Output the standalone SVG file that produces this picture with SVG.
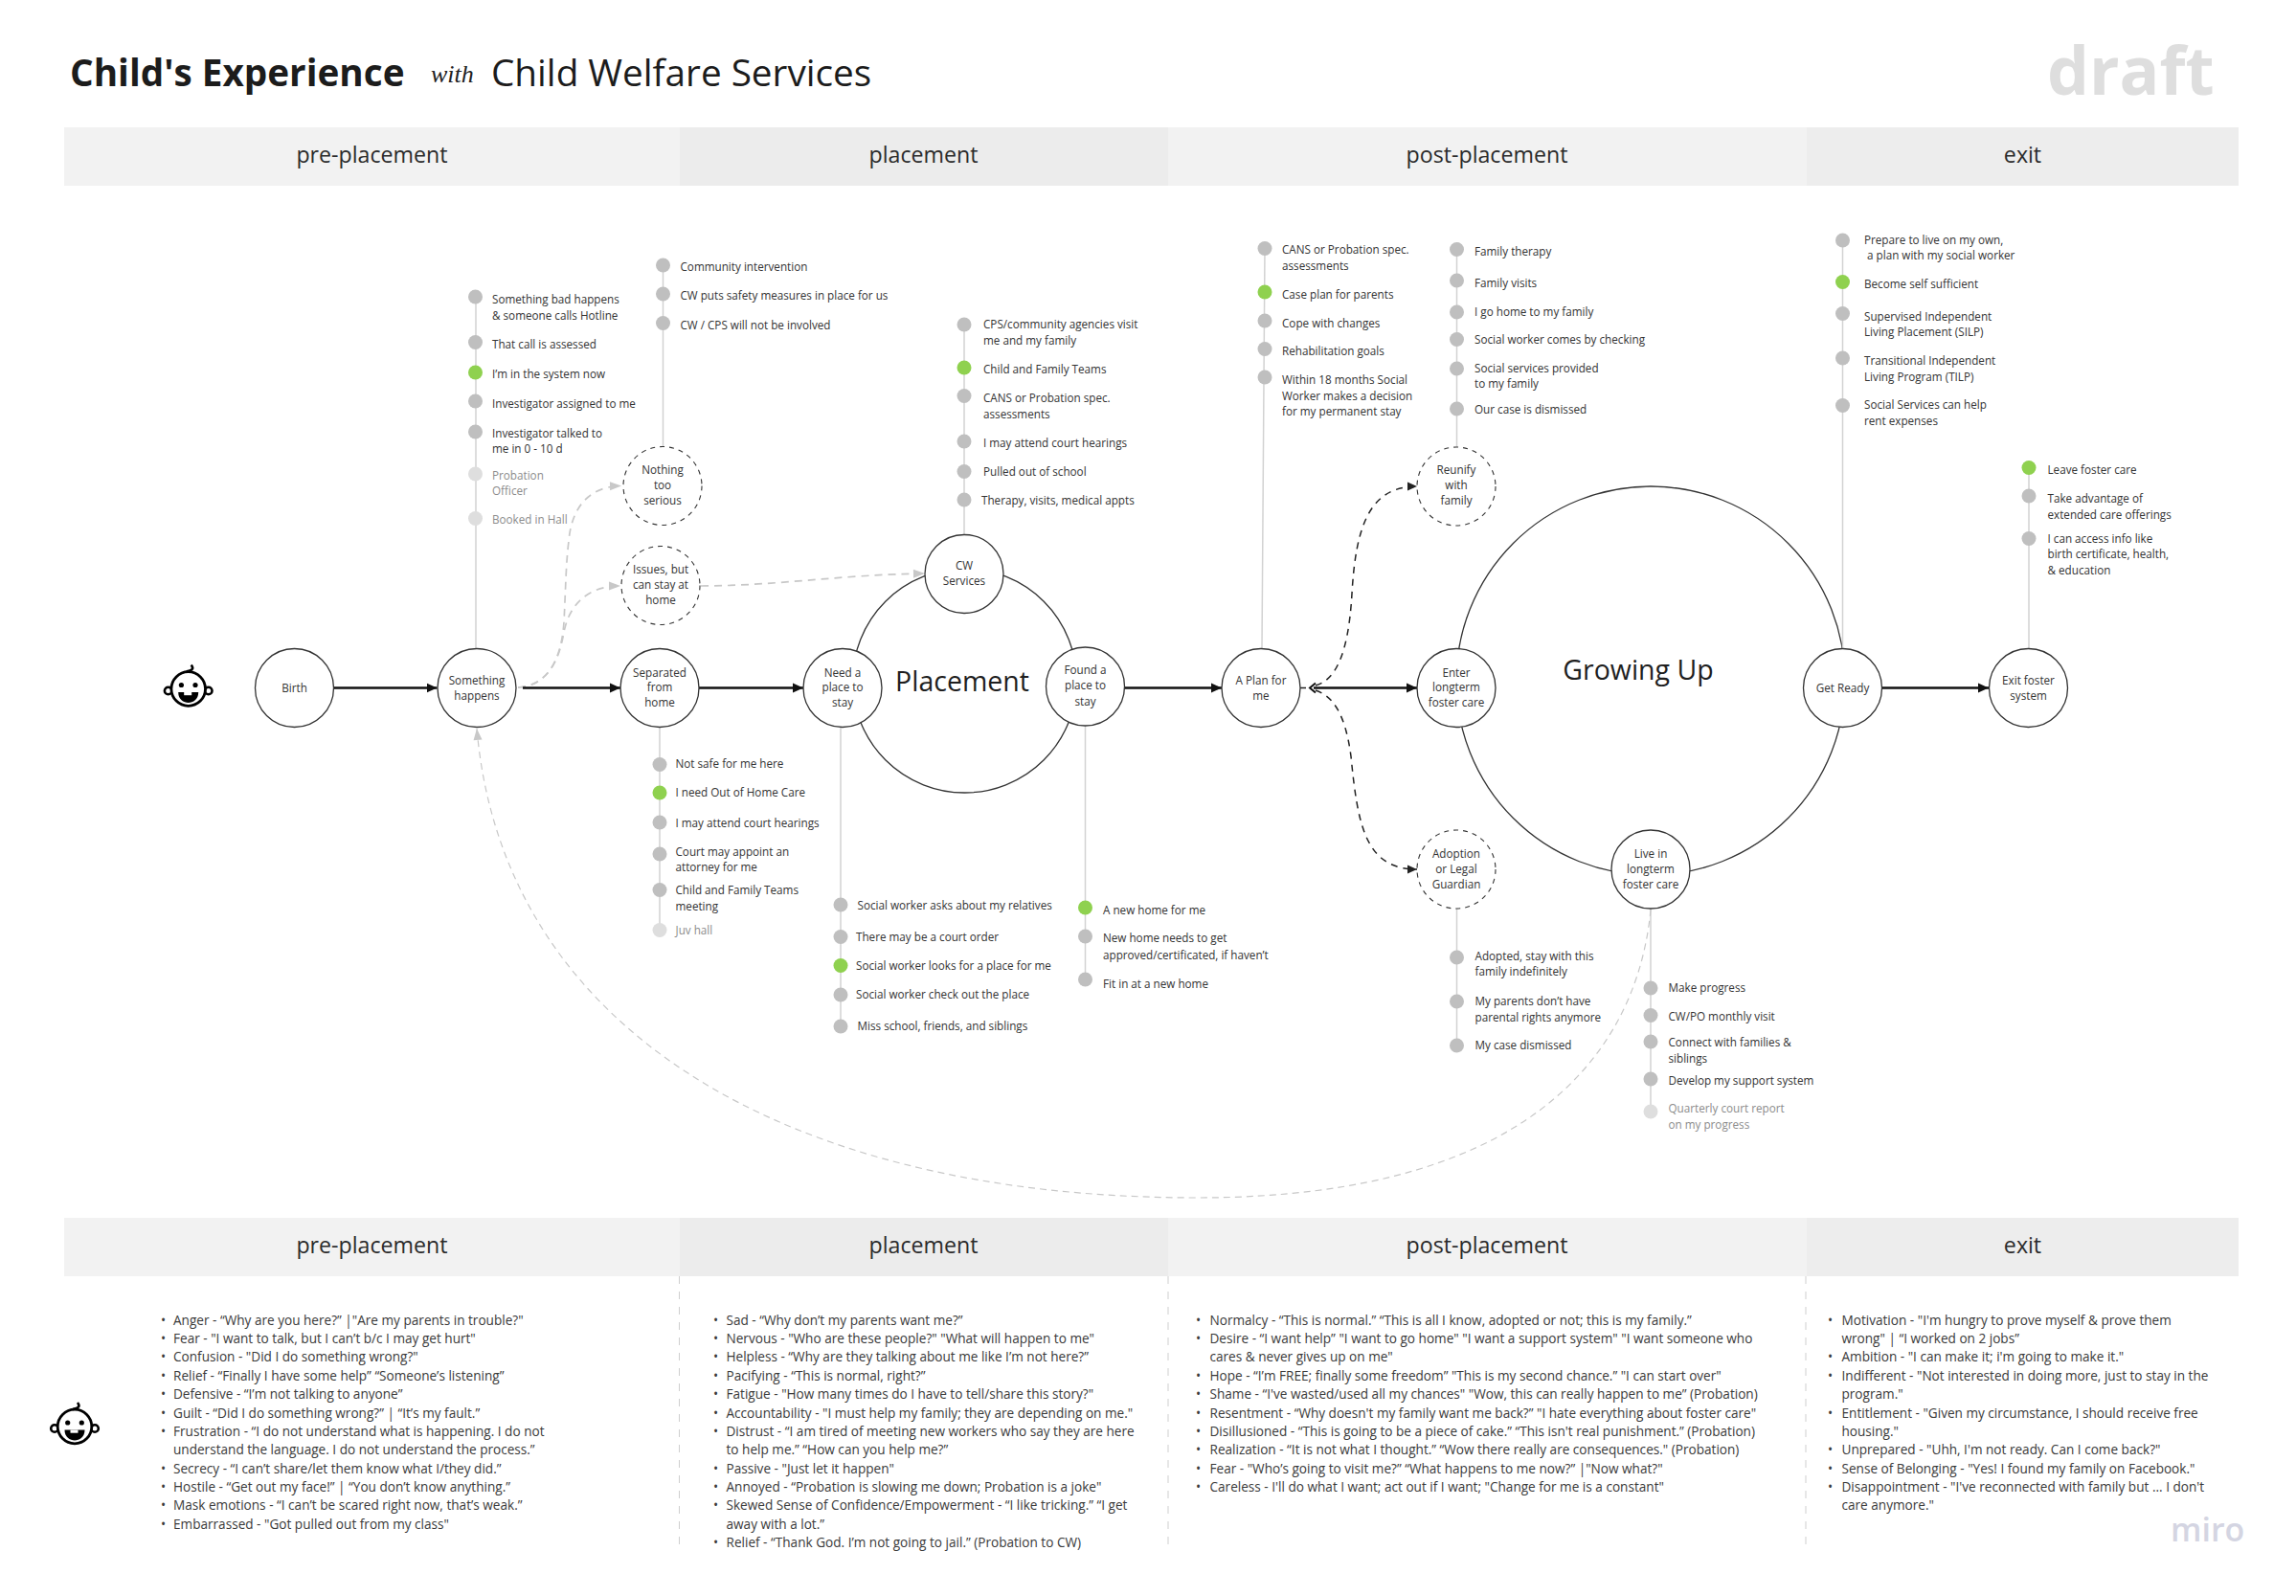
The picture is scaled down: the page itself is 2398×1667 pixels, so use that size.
<svg xmlns="http://www.w3.org/2000/svg" width="2398" height="1667" viewBox="0 0 2398 1667">
<style>
text{font-family:"Open Sans","Noto Sans","DejaVu Sans",sans-serif;fill:#333}
.t{font-size:11.7px}
.l{font-size:11.7px;fill:#8c8c8c}
.n{font-size:11.7px;text-anchor:middle}
.b{font-size:13.6px;fill:#3a3a3a}
.h{font-size:23.2px;text-anchor:middle;fill:#2b2b2b}
.c{fill:#fff;stroke:#333;stroke-width:1.3}
.d{fill:#fff;stroke:#333;stroke-width:1.1;stroke-dasharray:5 5}
.big{fill:none;stroke:#333;stroke-width:1.3}
.v{stroke:#d2d2d2;stroke-width:1.5;fill:none}
.g{fill:#bfbfbf}.y{fill:#8fd14f}.w{fill:#dedede}
.m{stroke:#111;stroke-width:2.6;fill:none;marker-end:url(#am)}
.dk{stroke:#222;stroke-width:1.5;stroke-dasharray:7 6;fill:none;marker-end:url(#ad)}
.dg{stroke:#c8c8c8;stroke-width:1.7;stroke-dasharray:8 6;fill:none;marker-end:url(#ag)}
.dl{stroke:#c8c8c8;stroke-width:1.2;stroke-dasharray:7 5;fill:none;marker-end:url(#ag)}
.sep{stroke:#cfcfcf;stroke-width:1;stroke-dasharray:8 8}
</style>
<defs>
<marker id="am" markerUnits="userSpaceOnUse" markerWidth="12" markerHeight="12" refX="11" refY="6" orient="auto"><path d="M0 1L11 6L0 11Z" fill="#111"/></marker>
<marker id="ad" markerUnits="userSpaceOnUse" markerWidth="12" markerHeight="12" refX="11" refY="6" orient="auto"><path d="M1 1.500L11 6L1 10.500Z" fill="#222"/></marker>
<marker id="ag" markerUnits="userSpaceOnUse" markerWidth="14" markerHeight="12" refX="13" refY="6" orient="auto"><path d="M1 1.500L13 6L1 10.500Z" fill="#c8c8c8"/></marker>
<g id="face">
<circle cx="-21" cy="2" r="3.800" fill="#fff" stroke="#000" stroke-width="2.600"/>
<circle cx="21" cy="2" r="3.800" fill="#fff" stroke="#000" stroke-width="2.600"/>
<circle r="17.800" fill="#fff" stroke="#000" stroke-width="2.800"/>
<path d="M-2-18C2-19 7-20 3-25" fill="none" stroke="#000" stroke-width="2.600"/>
<circle cx="-7.300" cy="-4" r="2.600"/><circle cx="7.300" cy="-4" r="2.600"/>
<path d="M-10.500 3.500H10.500C10.500 11 5 14.500 0 14.500C-5 14.500-10.500 11-10.500 3.500Z"/>
<rect x="-4.500" y="3.500" width="8" height="3.200" fill="#fff"/>
</g>
</defs>
<rect width="2398" height="1667" fill="#fff"/>
<g id="title">
<text x="73" y="90" font-size="38.700" font-weight="700" style="fill:#1c1c1c">Child's Experience</text>
<text x="450" y="86" font-size="26" font-style="italic" style="font-family:'Liberation Serif',serif;fill:#222">with</text>
<text x="513" y="90" font-size="38.700" style="fill:#1c1c1c">Child Welfare Services</text>
<text x="2138" y="99" font-size="69.500" font-weight="700" style="fill:#dedede">draft</text>
</g>
<g id="phase-top">
<rect x="67" y="133" width="643" height="61" fill="#f2f2f2"/>
<rect x="710" y="133" width="510" height="61" fill="#ececec"/>
<rect x="1220" y="133" width="667" height="61" fill="#f2f2f2"/>
<rect x="1887" y="133" width="451" height="61" fill="#ededed"/>
<text class="h" x="388.500" y="170">pre-placement</text>
<text class="h" x="964.500" y="170">placement</text>
<text class="h" x="1553" y="170">post-placement</text>
<text class="h" x="2112.500" y="170">exit</text>
</g>
<g id="rings">
<circle class="big" cx="1007.500" cy="711" r="117"/>
<circle class="big" cx="1724" cy="711" r="203"/>
</g>
<g id="connectors">
<path class="v" d="M497 310V677M692.500 277V467M1007 339V558M1321 259L1318 677M1521.500 261V467M1924.500 251V677M2119 488V677M689 759V972M878 759V1072M1133.500 758V1023M1521.500 949V1092M1724 949V1161"/>
<path class="m" d="M349 718.500H456.500"/>
<path class="dg" d="M541 718C572 716 586 690 589 650C591 610 591 590 594 565C597 530 615 508 649 507.500"/>
<path class="dg" d="M541 718C572 716 584 690 589 660C595 630 615 612 648 612"/>
<path class="dg" d="M732 612C810 612 880 600 966 599"/>
<path class="dl" d="M1724 950C1712 1080 1620 1251 1250 1251C820 1251 525 1075 498 761"/>
<path class="m" d="M546 718.500H648"/>
<path class="m" d="M730 718.500H839"/>
<path class="m" d="M1174 718.500H1276"/>
<path class="m" d="M1372 718.500H1480"/>
<path class="m" d="M1965 718.500H2077"/>
<path d="M1358 718.500H1364" stroke="#222" stroke-width="1.500"/>
<path d="M1374 713.500L1368 718.500L1374 723.500" fill="none" stroke="#111" stroke-width="2"/>
<path class="dk" d="M1374 716C1392 711 1408 690 1412 620C1416 550 1430 508 1480 508"/>
<path class="dk" d="M1374 721C1392 727 1405 745 1411 790C1418 860 1425 908 1480 908"/>
</g>
<g id="n-birth"><circle class="c" cx="307.500" cy="718.500" r="41"/><text class="n" x="307.500" y="722.500">Birth</text></g>
<g id="n-something"><circle class="c" cx="498" cy="718.500" r="41"/><text class="n" x="498" y="714.500">Something</text><text class="n" x="498" y="730.500">happens</text></g>
<g id="n-separated"><circle class="c" cx="689" cy="718.500" r="41"/><text class="n" x="689" y="706.500">Separated</text><text class="n" x="689" y="722">from</text><text class="n" x="689" y="738">home</text></g>
<g id="n-need"><circle class="c" cx="880" cy="718.500" r="41"/><text class="n" x="880" y="706.500">Need a</text><text class="n" x="880" y="722">place to</text><text class="n" x="880" y="738">stay</text></g>
<g id="n-cw"><circle class="c" cx="1007" cy="599.500" r="41"/><text class="n" x="1007" y="595">CW</text><text class="n" x="1007" y="611">Services</text></g>
<g id="n-found"><circle class="c" cx="1133.500" cy="717" r="41"/><text class="n" x="1133.500" y="704">Found a</text><text class="n" x="1133.500" y="720">place to</text><text class="n" x="1133.500" y="737">stay</text></g>
<g id="n-plan"><circle class="c" cx="1317" cy="718.500" r="41"/><text class="n" x="1317" y="714.500">A Plan for</text><text class="n" x="1317" y="730.500">me</text></g>
<g id="n-enter"><circle class="c" cx="1521" cy="718.500" r="41"/><text class="n" x="1521" y="706.500">Enter</text><text class="n" x="1521" y="722">longterm</text><text class="n" x="1521" y="738">foster care</text></g>
<g id="n-ready"><circle class="c" cx="1924.500" cy="718.500" r="41"/><text class="n" x="1924.500" y="722.500">Get Ready</text></g>
<g id="n-exit"><circle class="c" cx="2118.500" cy="718.500" r="41"/><text class="n" x="2118.500" y="714.500">Exit foster</text><text class="n" x="2118.500" y="730.500">system</text></g>
<g id="n-live"><circle class="c" cx="1724" cy="908" r="41"/><text class="n" x="1724" y="896">Live in</text><text class="n" x="1724" y="912">longterm</text><text class="n" x="1724" y="928">foster care</text></g>
<g id="n-adoption"><circle class="d" cx="1521" cy="908" r="41"/><text class="n" x="1521" y="896">Adoption</text><text class="n" x="1521" y="912">or Legal</text><text class="n" x="1521" y="928">Guardian</text></g>
<g id="n-reunify"><circle class="d" cx="1521" cy="508" r="41"/><text class="n" x="1521" y="495">Reunify</text><text class="n" x="1521" y="511">with</text><text class="n" x="1521" y="527">family</text></g>
<g id="n-nothing"><circle class="d" cx="692" cy="507.500" r="41"/><text class="n" x="692" y="495">Nothing</text><text class="n" x="692" y="511">too</text><text class="n" x="692" y="527">serious</text></g>
<g id="n-issues"><circle class="d" cx="690" cy="611.500" r="41"/><text class="n" x="690" y="599">Issues, but</text><text class="n" x="690" y="615">can stay at</text><text class="n" x="690" y="631">home</text></g>
<g id="labels-big">
<text x="1005" y="722" font-size="28.500" text-anchor="middle" style="fill:#1f1f1f">Placement</text>
<text x="1711" y="710" font-size="28.500" text-anchor="middle" style="fill:#1f1f1f">Growing Up</text>
</g>
<g id="list-something">
<circle class="g" cx="496.500" cy="310" r="7.500"/><circle class="g" cx="496.500" cy="357.500" r="7.500"/><circle class="y" cx="496.500" cy="389" r="7.500"/><circle class="g" cx="496.500" cy="419" r="7.500"/><circle class="g" cx="496.500" cy="451" r="7.500"/><circle class="w" cx="496.500" cy="495" r="7.500"/><circle class="w" cx="496.500" cy="541.500" r="7.500"/>
<text class="t" x="514" y="317">Something bad happens</text><text class="t" x="514" y="334">&amp; someone calls Hotline</text><text class="t" x="514" y="364">That call is assessed</text><text class="t" x="514" y="395">I’m in the system now</text><text class="t" x="514" y="426">Investigator assigned to me</text><text class="t" x="514" y="457">Investigator talked to</text><text class="t" x="514" y="473">me in 0 - 10 d</text><text class="l" x="514" y="501">Probation</text><text class="l" x="514" y="517">Officer</text><text class="l" x="514" y="547">Booked in Hall</text>
</g>
<g id="list-nothing">
<circle class="g" cx="692.500" cy="277" r="7.500"/><circle class="g" cx="692.500" cy="307" r="7.500"/><circle class="g" cx="692.500" cy="337.500" r="7.500"/>
<text class="t" x="710.500" y="283">Community intervention</text><text class="t" x="710.500" y="313">CW puts safety measures in place for us</text><text class="t" x="710.500" y="344">CW / CPS will not be involved</text>
</g>
<g id="list-cw">
<circle class="g" cx="1007" cy="339" r="7.500"/><circle class="y" cx="1007" cy="384" r="7.500"/><circle class="g" cx="1007" cy="413.500" r="7.500"/><circle class="g" cx="1007" cy="461" r="7.500"/><circle class="g" cx="1007" cy="492.500" r="7.500"/><circle class="g" cx="1007" cy="522" r="7.500"/>
<text class="t" x="1027" y="343">CPS/community agencies visit</text><text class="t" x="1027" y="360">me and my family</text><text class="t" x="1027" y="390">Child and Family Teams</text><text class="t" x="1027" y="420">CANS or Probation spec.</text><text class="t" x="1027" y="437">assessments</text><text class="t" x="1027" y="467">I may attend court hearings</text><text class="t" x="1027" y="497">Pulled out of school</text><text class="t" x="1025" y="527">Therapy, visits, medical appts</text>
</g>
<g id="list-plan">
<circle class="g" cx="1321" cy="259.500" r="7.500"/><circle class="y" cx="1321" cy="305" r="7.500"/><circle class="g" cx="1321" cy="335" r="7.500"/><circle class="g" cx="1321" cy="364.500" r="7.500"/><circle class="g" cx="1321" cy="394" r="7.500"/>
<text class="t" x="1339" y="265">CANS or Probation spec.</text><text class="t" x="1339" y="282">assessments</text><text class="t" x="1339" y="312">Case plan for parents</text><text class="t" x="1339" y="342">Cope with changes</text><text class="t" x="1339" y="371">Rehabilitation goals</text><text class="t" x="1339" y="401">Within 18 months Social</text><text class="t" x="1339" y="418">Worker makes a decision</text><text class="t" x="1339" y="434">for my permanent stay</text>
</g>
<g id="list-reunify">
<circle class="g" cx="1521.500" cy="260.500" r="7.500"/><circle class="g" cx="1521.500" cy="293" r="7.500"/><circle class="g" cx="1521.500" cy="326" r="7.500"/><circle class="g" cx="1521.500" cy="354.500" r="7.500"/><circle class="g" cx="1521.500" cy="385" r="7.500"/><circle class="g" cx="1521.500" cy="427" r="7.500"/>
<text class="t" x="1540" y="267">Family therapy</text><text class="t" x="1540" y="300">Family visits</text><text class="t" x="1540" y="330">I go home to my family</text><text class="t" x="1540" y="359">Social worker comes by checking</text><text class="t" x="1540" y="389">Social services provided</text><text class="t" x="1540" y="405">to my family</text><text class="t" x="1540" y="432">Our case is dismissed</text>
</g>
<g id="list-ready">
<circle class="g" cx="1924.500" cy="251" r="7.500"/><circle class="y" cx="1924.500" cy="294.500" r="7.500"/><circle class="g" cx="1924.500" cy="327.500" r="7.500"/><circle class="g" cx="1924.500" cy="374" r="7.500"/><circle class="g" cx="1924.500" cy="423.500" r="7.500"/>
<text class="t" x="1947" y="255">Prepare to live on my own,</text><text class="t" x="1950" y="271">a plan with my social worker</text><text class="t" x="1947" y="301">Become self sufficient</text><text class="t" x="1947" y="335">Supervised Independent</text><text class="t" x="1947" y="351">Living Placement (SILP)</text><text class="t" x="1947" y="381">Transitional Independent</text><text class="t" x="1947" y="398">Living Program (TILP)</text><text class="t" x="1947" y="427">Social Services can help</text><text class="t" x="1947" y="444">rent expenses</text>
</g>
<g id="list-exit">
<circle class="y" cx="2119" cy="488.500" r="7.500"/><circle class="g" cx="2119" cy="518" r="7.500"/><circle class="g" cx="2119" cy="562.500" r="7.500"/>
<text class="t" x="2138.500" y="495">Leave foster care</text><text class="t" x="2138.500" y="525">Take advantage of</text><text class="t" x="2138.500" y="542">extended care offerings</text><text class="t" x="2138.500" y="567">I can access info like</text><text class="t" x="2138.500" y="583">birth certificate, health,</text><text class="t" x="2138.500" y="600">&amp; education</text>
</g>
<g id="list-separated">
<circle class="g" cx="689" cy="798.500" r="7.500"/><circle class="y" cx="689" cy="828" r="7.500"/><circle class="g" cx="689" cy="859" r="7.500"/><circle class="g" cx="689" cy="892" r="7.500"/><circle class="g" cx="689" cy="929.500" r="7.500"/><circle class="w" cx="689" cy="971.500" r="7.500"/>
<text class="t" x="705.500" y="802">Not safe for me here</text><text class="t" x="705.500" y="832">I need Out of Home Care</text><text class="t" x="705.500" y="864">I may attend court hearings</text><text class="t" x="705.500" y="894">Court may appoint an</text><text class="t" x="705.500" y="910">attorney for me</text><text class="t" x="705.500" y="934">Child and Family Teams</text><text class="t" x="705.500" y="951">meeting</text><text class="l" x="705.500" y="976">Juv hall</text>
</g>
<g id="list-need">
<circle class="g" cx="878" cy="945" r="7.500"/><circle class="g" cx="878" cy="978.500" r="7.500"/><circle class="y" cx="878" cy="1008.500" r="7.500"/><circle class="g" cx="878" cy="1039" r="7.500"/><circle class="g" cx="878" cy="1072" r="7.500"/>
<text class="t" x="895.500" y="950">Social worker asks about my relatives</text><text class="t" x="894" y="983">There may be a court order</text><text class="t" x="894" y="1013">Social worker looks for a place for me</text><text class="t" x="894" y="1043">Social worker check out the place</text><text class="t" x="895.500" y="1076">Miss school, friends, and siblings</text>
</g>
<g id="list-found">
<circle class="y" cx="1133.500" cy="948" r="7.500"/><circle class="g" cx="1133.500" cy="978" r="7.500"/><circle class="g" cx="1133.500" cy="1023" r="7.500"/>
<text class="t" x="1152" y="955">A new home for me</text><text class="t" x="1152" y="984">New home needs to get</text><text class="t" x="1152" y="1002">approved/certificated, if haven’t</text><text class="t" x="1152" y="1032">Fit in at a new home</text>
</g>
<g id="list-adoption">
<circle class="g" cx="1521.500" cy="1000" r="7.500"/><circle class="g" cx="1521.500" cy="1046" r="7.500"/><circle class="g" cx="1521.500" cy="1092" r="7.500"/>
<text class="t" x="1540.500" y="1003">Adopted, stay with this</text><text class="t" x="1540.500" y="1019">family indefinitely</text><text class="t" x="1540.500" y="1050">My parents don’t have</text><text class="t" x="1540.500" y="1067">parental rights anymore</text><text class="t" x="1540.500" y="1096">My case dismissed</text>
</g>
<g id="list-live">
<circle class="g" cx="1724" cy="1032" r="7.500"/><circle class="g" cx="1724" cy="1060.500" r="7.500"/><circle class="g" cx="1724" cy="1088" r="7.500"/><circle class="g" cx="1724" cy="1127" r="7.500"/><circle class="w" cx="1724" cy="1161" r="7.500"/>
<text class="t" x="1742.500" y="1036">Make progress</text><text class="t" x="1742.500" y="1066">CW/PO monthly visit</text><text class="t" x="1742.500" y="1093">Connect with families &amp;</text><text class="t" x="1742.500" y="1110">siblings</text><text class="t" x="1742.500" y="1133">Develop my support system</text><text class="l" x="1742.500" y="1162">Quarterly court report</text><text class="l" x="1742.500" y="1179">on my progress</text>
</g>
<g id="faces">
<use href="#face" x="196.700" y="719.500"/>
<use href="#face" x="78" y="1490"/>
</g>
<g id="phase-bottom">
<rect x="67" y="1272" width="643" height="61" fill="#f2f2f2"/>
<rect x="710" y="1272" width="510" height="61" fill="#ececec"/>
<rect x="1220" y="1272" width="667" height="61" fill="#f2f2f2"/>
<rect x="1887" y="1272" width="451" height="61" fill="#ededed"/>
<text class="h" x="388.500" y="1309">pre-placement</text>
<text class="h" x="964.500" y="1309">placement</text>
<text class="h" x="1553" y="1309">post-placement</text>
<text class="h" x="2112.500" y="1309">exit</text>
<path class="sep" d="M709.500 1333V1618M1220 1333V1618M1886 1333V1618"/>
</g>
<g id="notes-pre">
<text class="b" x="168" y="1384">•</text><text class="b" x="181" y="1384">Anger - “Why are you here?” |"Are my parents in trouble?"</text>
<text class="b" x="168" y="1403">•</text><text class="b" x="181" y="1403">Fear - "I want to talk, but I can’t b/c I may get hurt"</text>
<text class="b" x="168" y="1422">•</text><text class="b" x="181" y="1422">Confusion - "Did I do something wrong?"</text>
<text class="b" x="168" y="1442">•</text><text class="b" x="181" y="1442">Relief - “Finally I have some help” “Someone’s listening”</text>
<text class="b" x="168" y="1461">•</text><text class="b" x="181" y="1461">Defensive - “I’m not talking to anyone”</text>
<text class="b" x="168" y="1481">•</text><text class="b" x="181" y="1481">Guilt - “Did I do something wrong?” | “It’s my fault.”</text>
<text class="b" x="168" y="1500">•</text><text class="b" x="181" y="1500">Frustration - “I do not understand what is happening. I do not</text>
<text class="b" x="181" y="1519">understand the language. I do not understand the process.”</text>
<text class="b" x="168" y="1539">•</text><text class="b" x="181" y="1539">Secrecy - “I can’t share/let them know what I/they did.”</text>
<text class="b" x="168" y="1558">•</text><text class="b" x="181" y="1558">Hostile - “Get out my face!” | “You don’t know anything.”</text>
<text class="b" x="168" y="1577">•</text><text class="b" x="181" y="1577">Mask emotions - “I can’t be scared right now, that’s weak.”</text>
<text class="b" x="168" y="1597">•</text><text class="b" x="181" y="1597">Embarrassed - "Got pulled out from my class"</text>
</g>
<g id="notes-placement">
<text class="b" x="745" y="1384">•</text><text class="b" x="758.500" y="1384">Sad - “Why don’t my parents want me?”</text>
<text class="b" x="745" y="1403">•</text><text class="b" x="758.500" y="1403">Nervous - "Who are these people?" "What will happen to me"</text>
<text class="b" x="745" y="1422">•</text><text class="b" x="758.500" y="1422">Helpless - “Why are they talking about me like I’m not here?”</text>
<text class="b" x="745" y="1442">•</text><text class="b" x="758.500" y="1442">Pacifying - “This is normal, right?”</text>
<text class="b" x="745" y="1461">•</text><text class="b" x="758.500" y="1461">Fatigue - "How many times do I have to tell/share this story?"</text>
<text class="b" x="745" y="1481">•</text><text class="b" x="758.500" y="1481">Accountability - "I must help my family; they are depending on me."</text>
<text class="b" x="745" y="1500">•</text><text class="b" x="758.500" y="1500">Distrust - “I am tired of meeting new workers who say they are here</text>
<text class="b" x="758.500" y="1519">to help me.” “How can you help me?”</text>
<text class="b" x="745" y="1539">•</text><text class="b" x="758.500" y="1539">Passive - "Just let it happen"</text>
<text class="b" x="745" y="1558">•</text><text class="b" x="758.500" y="1558">Annoyed - “Probation is slowing me down; Probation is a joke"</text>
<text class="b" x="745" y="1577">•</text><text class="b" x="758.500" y="1577">Skewed Sense of Confidence/Empowerment - “I like tricking.” “I get</text>
<text class="b" x="758.500" y="1597">away with a lot.”</text>
<text class="b" x="745" y="1616">•</text><text class="b" x="758.500" y="1616">Relief - “Thank God. I’m not going to jail.” (Probation to CW)</text>
</g>
<g id="notes-post">
<text class="b" x="1249" y="1384">•</text><text class="b" x="1263.500" y="1384">Normalcy - “This is normal.” “This is all I know, adopted or not; this is my family.”</text>
<text class="b" x="1249" y="1403">•</text><text class="b" x="1263.500" y="1403">Desire - “I want help” "I want to go home" "I want a support system" "I want someone who</text>
<text class="b" x="1263.500" y="1422">cares &amp; never gives up on me"</text>
<text class="b" x="1249" y="1442">•</text><text class="b" x="1263.500" y="1442">Hope -  “I’m FREE; finally some freedom” "This is my second chance.” "I can start over"</text>
<text class="b" x="1249" y="1461">•</text><text class="b" x="1263.500" y="1461">Shame - “I've wasted/used all my chances" "Wow, this can really happen to me” (Probation)</text>
<text class="b" x="1249" y="1481">•</text><text class="b" x="1263.500" y="1481">Resentment - “Why doesn't my family want me back?” "I hate everything about foster care"</text>
<text class="b" x="1249" y="1500">•</text><text class="b" x="1263.500" y="1500">Disillusioned - “This is going to be a piece of cake.” “This isn't real punishment.” (Probation)</text>
<text class="b" x="1249" y="1519">•</text><text class="b" x="1263.500" y="1519">Realization - “It is not what I thought.” “Wow there really are consequences." (Probation)</text>
<text class="b" x="1249" y="1539">•</text><text class="b" x="1263.500" y="1539">Fear - "Who’s going to visit me?” “What happens to me now?” |"Now what?"</text>
<text class="b" x="1249" y="1558">•</text><text class="b" x="1263.500" y="1558">Careless - I'll do what I want; act out if I want; "Change for me is a constant"</text>
</g>
<g id="notes-exit">
<text class="b" x="1909" y="1384">•</text><text class="b" x="1923.500" y="1384">Motivation - "I'm hungry to prove myself &amp; prove them</text>
<text class="b" x="1923.500" y="1403">wrong" | “I worked on 2 jobs”</text>
<text class="b" x="1909" y="1422">•</text><text class="b" x="1923.500" y="1422">Ambition - "I can make it; i'm going to make it."</text>
<text class="b" x="1909" y="1442">•</text><text class="b" x="1923.500" y="1442">Indifferent - "Not interested in doing more, just to stay in the</text>
<text class="b" x="1923.500" y="1461">program."</text>
<text class="b" x="1909" y="1481">•</text><text class="b" x="1923.500" y="1481">Entitlement - "Given my circumstance, I should receive free</text>
<text class="b" x="1923.500" y="1500">housing."</text>
<text class="b" x="1909" y="1519">•</text><text class="b" x="1923.500" y="1519">Unprepared - "Uhh, I'm not ready. Can I come back?"</text>
<text class="b" x="1909" y="1539">•</text><text class="b" x="1923.500" y="1539">Sense of Belonging - "Yes! I found my family on Facebook."</text>
<text class="b" x="1909" y="1558">•</text><text class="b" x="1923.500" y="1558">Disappointment - "I've reconnected with family but  ... I don't</text>
<text class="b" x="1923.500" y="1577">care anymore."</text>
</g>
<text id="miro" x="2267" y="1610" font-size="34" font-weight="600" style="fill:#d4d5e2">miro</text>
</svg>
